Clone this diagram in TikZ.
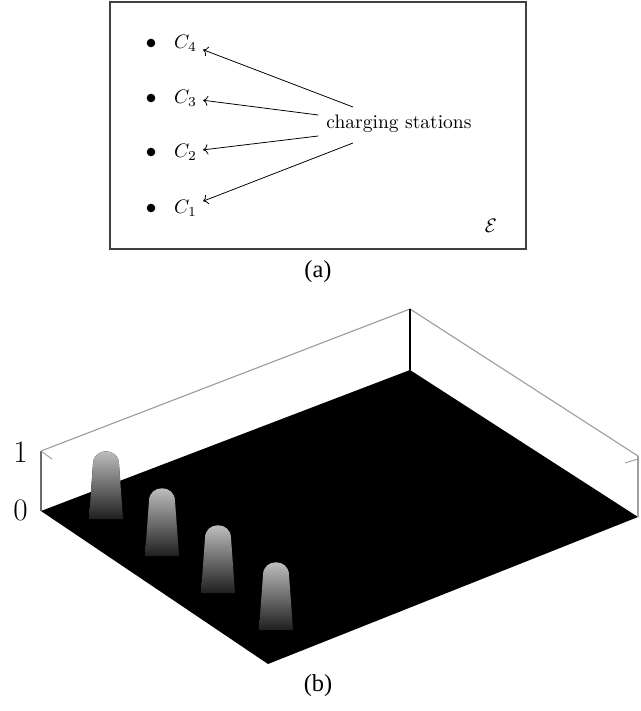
\documentclass[tikz,border=0pt]{standalone}
\usepackage{amsmath,amssymb}
\usepackage{fontspec}
\newfontfamily\capfont{Liberation Serif}
\usetikzlibrary{positioning,calc,arrows.meta}
\definecolor{edgegray}{HTML}{A0A0A0}
\definecolor{axisgray}{HTML}{6A6A6A}
\tikzset{
    stationlbl/.style={inner sep=3pt},
    dot/.style={circle,fill=black,inner sep=0pt,minimum size=4.4pt},
    pointer/.style={draw,->,>=To,thin},
    frame/.style={draw=black!75,line width=0.7pt},
    capt/.style={font=\fontsize{12.5}{14}\selectfont},
    zlab/.style={font=\fontsize{16}{18}\selectfont,inner sep=0pt},
    bump/.style={top color=black!22,middle color=black!50,bottom color=black!88},
}
% one peak of the surface: centre x, top y (picture units)
\newcommand{\peak}[2]{%
    \fill[bump] (#1-17,#2+68) -- (#1-13,#2+13)
        .. controls (#1-13,#2-4) and (#1+13,#2-4) .. (#1+13,#2+13)
        -- (#1+17,#2+68) -- cycle;}

\begin{document}
\begin{tikzpicture}[x=0.018cm,y=-0.018cm]
    \useasboundingbox (0,0) rectangle (640,711);
    % (a) the environment
    \draw[frame] (110,2) rectangle (526,249);
    \node[dot] (d4) at (151,43) {};
    \node[dot] (d3) at (151,98) {};
    \node[dot] (d2) at (151,152) {};
    \node[dot] (d1) at (151,208) {};
    \node[stationlbl,right=0.22cm of d4] (c4) {$C_4$};
    \node[stationlbl,right=0.22cm of d3] (c3) {$C_3$};
    \node[stationlbl,right=0.22cm of d2] (c2) {$C_2$};
    \node[stationlbl,right=0.22cm of d1] (c1) {$C_1$};
    \node[inner sep=4pt] (cs) at (399,124) {charging stations};
    \draw[pointer] ($(cs.north)+(-46,0)$) -- (c4);
    \draw[pointer] ($(cs.west)+(0,-9)$) -- (c3);
    \draw[pointer] ($(cs.west)+(0,12)$) -- (c2);
    \draw[pointer] ($(cs.south)+(-46,2)$) -- (c1);
    \node (env) at (491,226) {$\mathcal{E}$};
    \node[capt] (capa) at (318,272) {\capfont (a)};
    % (b) the surface
    \fill[black] (41,511) -- (410,370) -- (638,517) -- (268,664) -- cycle;
    \draw[edgegray,line width=0.6pt] (41,451) -- (410,309) -- (638,456);
    \draw[axisgray,line width=0.6pt] (41,451) -- (41,511);
    \draw[edgegray,line width=0.6pt] (638,456) -- (638,517);
    \draw[black,line width=0.6pt] (410,309) -- (410,370);
    \draw[edgegray,line width=0.5pt] (41,451) -- (52,459);
    \draw[edgegray,line width=0.5pt] (638,459) -- (625,463);
    \peak{106}{451}
    \peak{162}{488}
    \peak{218}{525}
    \peak{276}{562}
    \node[zlab,anchor=east] (zone) at (28,452) {1};
    \node[zlab,anchor=east] (zzero) at (28,510) {0};
    \node[capt] (capb) at (318,686) {\capfont (b)};
\end{tikzpicture}
\end{document}
